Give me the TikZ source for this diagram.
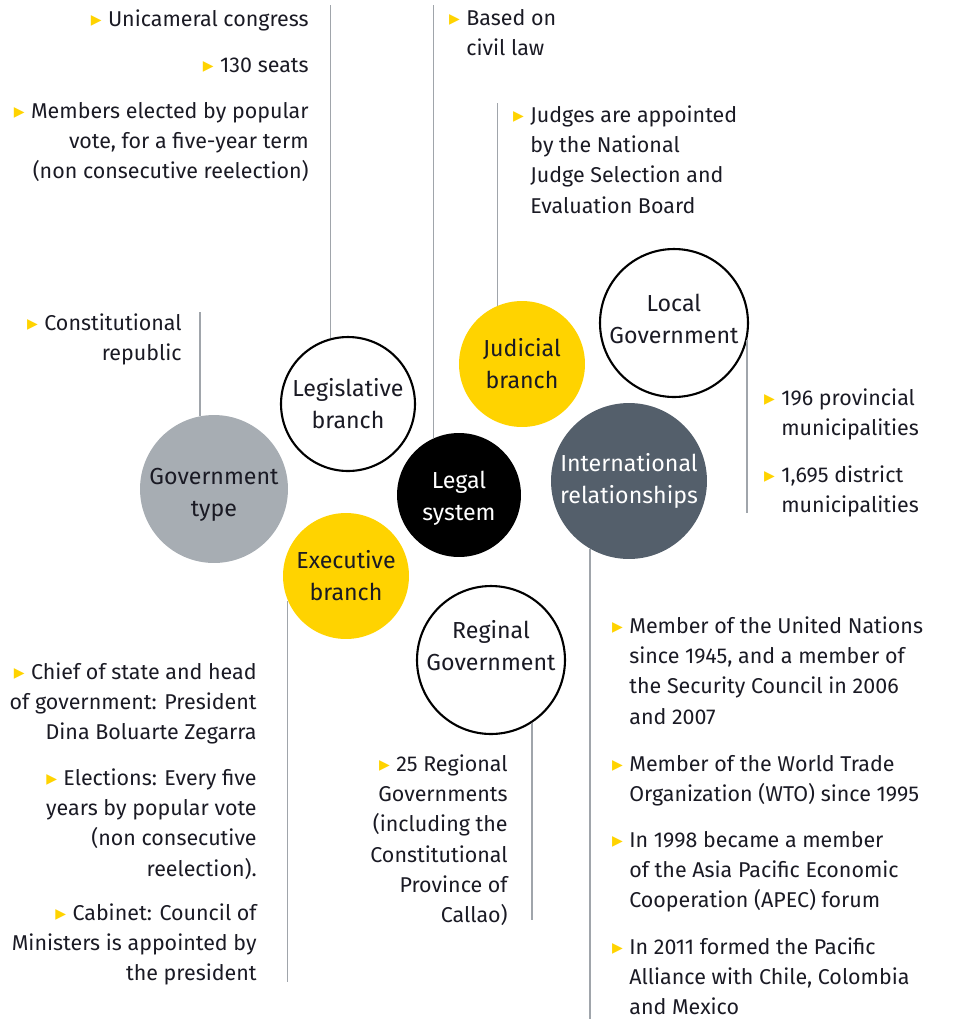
\documentclass[tikz,border=0pt]{standalone}
\usepackage{fontspec}
\setmainfont{Fira Sans}
\newfontfamily\symfont{DejaVu Sans}
\usetikzlibrary{positioning}

\definecolor{eyyellow}{HTML}{FFD300}
\definecolor{govgray}{HTML}{A7ADB3}
\definecolor{intlslate}{HTML}{545F6B}
\definecolor{stemgray}{HTML}{A0A5AB}
\definecolor{inkblack}{HTML}{1A1A24}

\newcommand\factsize{\fontsize{12.2}{17.2}\selectfont}
\newcommand\bubblesize{\fontsize{13.2}{18.2}\selectfont}
\newcommand\bul{\strut{\color{eyyellow}\symfont\char"25B8}\hspace{0.3em}}

\tikzset{
  disc/.style={circle, inner sep=0pt, align=center, font=\bubblesize, text=inkblack},
  ring/.style={disc, draw=black, line width=1.2pt, fill=white},
  stem/.style={draw=stemgray, line width=0.8pt},
  factR/.style={anchor=north east, align=right, inner sep=0pt, font=\factsize, text=inkblack},
  factL/.style={anchor=north west, align=left, inner sep=0pt, font=\factsize, text=inkblack}
}

\begin{document}
\begin{tikzpicture}[x=0.02cm, y=-0.02cm]
\useasboundingbox (0,0) rectangle (953,1019);

% bubbles
\node[disc, fill=govgray, minimum size=2.96cm] (gov) at (214,489) {};
\node[disc] (govtxt) at (214,495) {Government\\type};
\node[ring, minimum size=2.68cm] (leg) at (348,404) {Legislative\\branch};
\node[disc, fill=eyyellow, minimum size=2.52cm] (exe) at (346,576) {Executive\\branch};
\node[disc, fill=black, minimum size=2.48cm] (legal) at (459,495) {};
\node[disc, text=white] (legaltxt) at (459,498) {Legal\\system};
\node[disc, fill=eyyellow, minimum size=2.52cm] (jud) at (522,364) {Judicial\\branch};
\node[ring, minimum size=2.96cm] (local) at (674,323) {};
\node[disc] (localtxt) at (674,319) {Local\\Government};
\node[disc, fill=intlslate, text=white, minimum size=3.12cm] (intl) at (629,481) {International\\relationships};
\node[ring, minimum size=2.96cm] (reg) at (491,660) {};
\node[disc] (regtxt) at (491,646) {Reginal\\Government};

% line ends
\coordinate (top) at (0,5);
\coordinate (judtop) at (0,103);
\coordinate (govtop) at (0,312);
\coordinate (localend) at (0,513);
\coordinate (regend) at (0,920);
\coordinate (exeend) at (0,982);
\coordinate (intlend) at (0,1019);

\draw[stem] (gov.101) -- (gov.101 |- govtop);
\draw[stem] (leg.105) -- (leg.105 |- top);
\draw[stem] (legal.114) -- (legal.114 |- top);
\draw[stem] (jud.113) -- (jud.113 |- judtop);
\draw[stem] (local.-13) -- (local.-13 |- localend);
\draw[stem] (intl.-120) -- (intl.-120 |- intlend);
\draw[stem] (exe.-157) -- (exe.-157 |- exeend);
\draw[stem] (reg.-57) -- (reg.-57 |- regend);

% legislative facts
\node[factR] (leg1) at (309,5) {\bul Unicameral congress};
\node[factR] (leg2) at (309,51) {\bul 130 seats};
\node[factR] (leg3) at (309,97) {\bul Members elected by popular\\vote, for a five-year term\\(non consecutive reelection)};

% government type facts
\node[factR] (gov1) at (182,309) {\bul Constitutional\\republic};

% legal system facts
\node[factL] (legal1) at (466,4) {\llap{\bul}Based on\\civil law};

% judicial facts
\node[factL] (jud1) at (530,101) {\llap{\bul}Judges are appointed\\by the National\\Judge Selection and\\Evaluation Board};

% local government facts
\node[factL] (local1) at (781,384) {\llap{\bul}196 provincial\\municipalities};
\node[factL] (local2) at (781,461) {\llap{\bul}1,695 district\\municipalities};

% international facts
\node[factL] (intl1) at (629,612) {\llap{\bul}Member of the United Nations\\since 1945, and a member of\\the Security Council in 2006\\and 2007};
\node[factL] (intl2) at (629,750) {\llap{\bul}Member of the World Trade\\Organization (WTO) since 1995};
\node[factL] (intl3) at (629,826) {\llap{\bul}In 1998 became a member\\of the Asia Pacific Economic\\Cooperation (APEC) forum};
\node[factL] (intl4) at (629,933) {\llap{\bul}In 2011 formed the Pacific\\Alliance with Chile, Colombia\\and Mexico};

% executive facts
\node[factR] (exe1) at (257,658) {\bul Chief of state and head\\of government: President\\Dina Boluarte Zegarra};
\node[factR] (exe2) at (257,764) {\bul Elections: Every five\\years by popular vote\\(non consecutive\\reelection).};
\node[factR] (exe3) at (257,899) {\bul Cabinet: Council of\\Ministers is appointed by\\the president};

% regional facts
\node[factR] (reg1) at (508,750) {\bul 25 Regional\\Governments\\(including the\\Constitutional\\Province of\\Callao)};
\end{tikzpicture}
\end{document}
